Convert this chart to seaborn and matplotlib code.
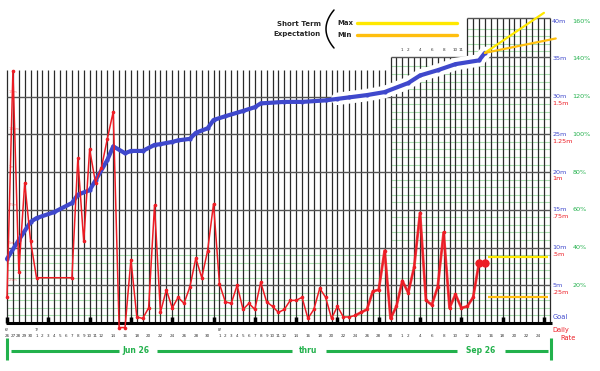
import numpy as np
import pandas as pd
import seaborn as sns
import matplotlib.pyplot as plt
from matplotlib.lines import Line2D

# ===== data (day index counted from Jun 26) =====
cum_days = [0, 2, 4, 5, 8, 11, 12, 14, 15, 17, 18, 20, 21, 23, 25, 26, 28, 29, 31, 32,
            34, 35, 37, 40, 42, 43, 47, 50, 54, 56, 58, 61, 64, 68, 70, 73, 76, 80, 81]
cum_m = [8.5, 11.0, 13.4, 13.9, 14.7, 15.9, 17.0, 17.6, 18.9, 21.6, 23.4, 22.5, 22.8, 22.8, 23.6,
         23.7, 24.0, 24.2, 24.4, 25.2, 25.8, 26.9, 27.4, 28.1, 28.6, 29.1, 29.3, 29.3, 29.5, 29.7,
         29.9, 30.2, 30.6, 31.8, 32.8, 33.5, 34.3, 34.8, 35.8]

rate_days = [0, 1, 2, 3, 4, 5, 11, 12, 13, 14, 15, 16, 17, 18, 19, 20, 21, 22, 23, 24, 25, 26,
             27, 28, 29, 30, 31, 32, 33, 34, 35, 36, 37, 38, 39, 40, 41, 42, 43, 44, 45, 46, 47,
             48, 49, 50, 51, 52, 53, 54, 55, 56, 57, 58, 59, 60, 61, 62, 63, 64, 65, 66, 67, 68,
             69, 70, 71, 72, 73, 74, 75, 76, 77, 78, 79, 80, 81]
rate_m = [0.17, 1.67, 0.34, 0.93, 0.54, 0.30, 0.30, 1.09, 0.54, 1.15, 0.93, 1.03, 1.22, 1.40,
          -0.03, -0.03, 0.42, 0.04, 0.03, 0.10, 0.78, 0.07, 0.22, 0.10, 0.17, 0.13, 0.24, 0.43,
          0.30, 0.48, 0.79, 0.26, 0.14, 0.13, 0.25, 0.09, 0.13, 0.09, 0.27, 0.14, 0.11, 0.07,
          0.09, 0.15, 0.15, 0.17, 0.03, 0.09, 0.23, 0.17, 0.03, 0.11, 0.04, 0.04, 0.05, 0.07,
          0.09, 0.21, 0.22, 0.48, 0.03, 0.11, 0.28, 0.20, 0.37, 0.73, 0.15, 0.12, 0.24, 0.60,
          0.10, 0.19, 0.10, 0.11, 0.17, 0.40, 0.40]

# short term expectation
exp_start = (81, 35.8)
exp_max_end = (91, 41.1)
exp_min_end = (93, 37.7)
rate_exp_days = (81.5, 91.7)
rate_exp_max = 0.44
rate_exp_min = 0.17

goal_m = 25
cum_ticks = [5, 10, 15, 20, 25, 30, 35, 40]
rate_ticks = [".25m", ".5m", ".75m", "1m", "1.25m", "1.5m"]

date_days = [0, 1, 2, 3, 4, 5, 6, 7, 8, 9, 10, 11, 12, 13, 14, 15, 16, 18, 20, 22, 24, 26, 28,
             30, 32, 34, 36, 37, 38, 39, 40, 41, 42, 43, 44, 45, 46, 47, 49, 51, 53, 55, 57, 59,
             61, 63, 65, 67, 68, 70, 72, 74, 76, 78, 80, 82, 84, 86, 88, 90]
date_labels = ["26", "27", "28", "29", "30", "1", "2", "3", "4", "5", "6", "7", "8", "9", "10",
               "11", "12", "14", "16", "18", "20", "22", "24", "26", "28", "30", "1", "2", "3",
               "4", "5", "6", "7", "8", "9", "10", "11", "12", "14", "16", "18", "20", "22", "24",
               "26", "28", "30", "1", "2", "4", "6", "8", "10", "12", "14", "16", "18", "20",
               "22", "24"]
month_days = [0, 5, 36]
month_labels = ["6/", "7/", "8/"]
top_days = [67, 68, 70, 72, 74, 76, 77]
top_labels = ["1", "2", "4", "6", "8", "10", "11"]

BLUE = "#3f48cc"
RED = "#ed1c24"
GREEN = "#22b14c"
YELLOW = "#ffe800"
ORANGE = "#ffbf0e"
LGREEN = "#a9dcae"

sns.set_theme(style="white")
plt.rcParams["font.family"] = ["DejaVu Sans"]

fig = plt.figure(figsize=(6, 3.71), dpi=100)
ax = fig.add_axes([0, 0, 1, 1])
ax.set_xlim(-1.19, 100.5)
ax.set_ylim(-6.36, 42.8)
ax.axis("off")

# ----- grid -----
all_days = list(range(0, 93))
tops = [33.5 if d < 65 else (35.2 if d < 78 else 40.4) for d in all_days]
for lvl in range(1, 41):
    if lvl % 5 == 0:
        continue
    if lvl < 10:
        ax.hlines(lvl, 0, 92, color=LGREEN, lw=0.8, zorder=1)
    elif lvl < 35:
        ax.hlines(lvl, 65, 92, color=LGREEN, lw=0.8, zorder=1)
    else:
        ax.hlines(lvl, 78, 92, color=LGREEN, lw=0.8, zorder=1)
ax.vlines(all_days, 0, tops, color="#2a2a2a", lw=0.9, zorder=2)
for lvl in [5, 10, 15, 20, 25, 30]:
    ax.hlines(lvl, 0, 92, color="#555555", lw=1.0, zorder=2)
ax.hlines(35.2, 65, 92, color="#555555", lw=1.0, zorder=2)
ax.hlines(40.4, 78, 92, color="#555555", lw=1.0, zorder=2)
ax.hlines(0, -0.2, 92.3, color="black", lw=2.2, zorder=3)
ax.vlines(range(0, 92, 7), 0, 0.8, color="black", lw=2.5, zorder=3)

# ----- cumulative distance -----
cum = pd.DataFrame({"day": cum_days, "m": cum_m})
sept = cum[cum["day"] >= 56]
ax.plot(sept["day"], sept["m"], color="white", lw=9, solid_capstyle="round", zorder=3)
sns.lineplot(data=cum, x="day", y="m", ax=ax, color=BLUE, lw=3, marker="o",
             markersize=3, markeredgewidth=0, zorder=4)
ax.plot([exp_start[0], exp_max_end[0]], [exp_start[1], exp_max_end[1]], color=YELLOW, lw=1.6, zorder=4)
ax.plot([exp_start[0], exp_min_end[0]], [exp_start[1], exp_min_end[1]], color=ORANGE, lw=1.6, zorder=4)

# ----- daily rate (1.5 m/day on the 30 m line) -----
ax2 = ax.twinx()
ax2.set_ylim(-6.36 / 20, 42.8 / 20)
ax2.axis("off")
rate = pd.DataFrame({"day": rate_days, "m": rate_m})
sns.lineplot(data=rate, x="day", y="m", ax=ax2, color=RED, lw=1.1, marker="o",
             markersize=2.6, markeredgewidth=0)
late = rate[rate["day"] >= 59]
sns.lineplot(data=late, x="day", y="m", ax=ax2, color=RED, lw=2.0, alpha=0.8)
last = rate[rate["day"] >= 80]
ax2.plot(last["day"], last["m"], color=RED, lw=2, marker="o", markersize=5)
ax2.hlines([rate_exp_max, rate_exp_min], *rate_exp_days, colors=[YELLOW, ORANGE], lw=1.6)

# ----- right-hand labels -----
for i, v in enumerate(cum_ticks):
    ax.text(92.4, v, f"{v}m", color=BLUE, fontsize=4.6, va="center", ha="left")
    ax.text(95.8, v, f"{round(v / goal_m * 100)}%", color=GREEN, fontsize=4.6, va="center", ha="left")
for i, lab in enumerate(rate_ticks):
    ax.text(92.4, cum_ticks[i] - 0.9, lab, color=RED, fontsize=4.6, va="center", ha="left")
    ax.text(0.2, cum_ticks[i] + 0.4, lab, color=RED, fontsize=2.4, va="bottom", ha="left", alpha=0.6)
ax.text(92.4, 0.8, "Goal", color=BLUE, fontsize=4.8, va="center", ha="left")
ax.text(92.4, -0.9, "Daily", color=RED, fontsize=4.8, va="center", ha="left")
ax.text(93.7, -2.0, "Rate", color=RED, fontsize=4.8, va="center", ha="left")

# ----- date labels -----
for d, lab in zip(date_days, date_labels):
    ax.text(d, -1.7, lab, fontsize=3.0, ha="center", va="center", color="#333333")
for d, lab in zip(month_days, month_labels):
    ax.text(d, -0.9, lab, fontsize=3.0, ha="center", va="center", color="#333333")
for d, lab in zip(top_days, top_labels):
    ax.text(d, 36.2, lab, fontsize=3.0, ha="center", va="center", color="#333333")

# ----- period bar -----
bar_y = -3.7
for a, b in [(0.7, 19), (25.4, 48.3), (54.1, 76.3), (84.4, 91.7)]:
    ax.plot([a, b], [bar_y, bar_y], color=GREEN, lw=2.2, solid_capstyle="butt")
ax.vlines([0, 92.2], -4.9, -2.0, color=GREEN, lw=2.2)
ax.text(21.9, bar_y, "Jun 26", color=GREEN, fontsize=5.5, fontweight="bold", ha="center", va="center")
ax.text(51.0, bar_y, "thru", color=GREEN, fontsize=5.5, fontweight="bold", ha="center", va="center")
ax.text(80.2, bar_y, "Sep 26", color=GREEN, fontsize=5.5, fontweight="bold", ha="center", va="center")

# ----- legend -----
fig.text(321 / 600, 1 - 24 / 371, "Short Term", fontsize=5, fontweight="bold", ha="right", va="center")
fig.text(321 / 600, 1 - 34 / 371, "Expectation", fontsize=5, fontweight="bold", ha="right", va="center")
t = np.linspace(-1, 1, 30)
brace_x = 334 - 8 * (1 - t ** 2)
brace_y = 29 + 19 * t
fig.add_artist(Line2D(brace_x / 600, 1 - brace_y / 371, color="black", lw=1.1))
fig.text(337 / 600, 1 - 23 / 371, "Max", fontsize=5, fontweight="bold", ha="left", va="center")
fig.text(337 / 600, 1 - 35 / 371, "Min", fontsize=5, fontweight="bold", ha="left", va="center")
fig.add_artist(Line2D([357 / 600, 457 / 600], [1 - 23 / 371] * 2, color=YELLOW, lw=2.4))
fig.add_artist(Line2D([357 / 600, 457 / 600], [1 - 35 / 371] * 2, color=ORANGE, lw=2.4))

fig.savefig("out.png", dpi=100)
